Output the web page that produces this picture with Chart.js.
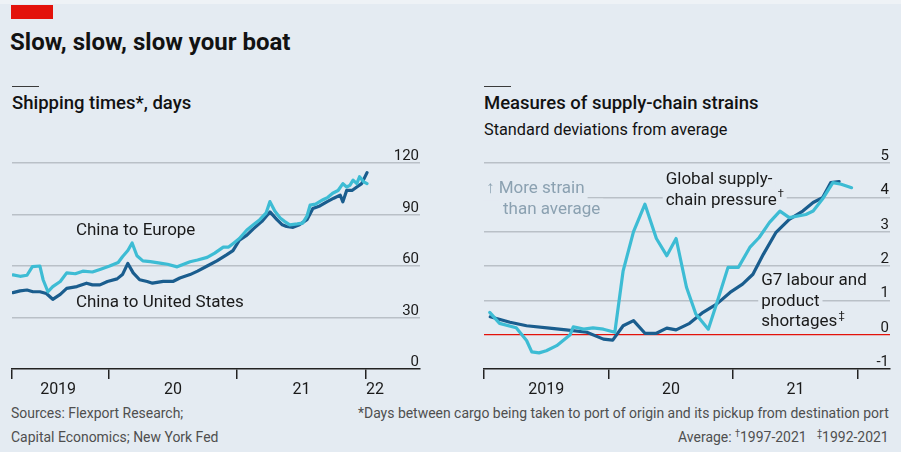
<!DOCTYPE html>
<html>
<head>
<meta charset="utf-8">
<title>Slow, slow, slow your boat</title>
<script src="https://cdn.jsdelivr.net/npm/chart.js"></script>
<style>
  body { margin: 0; background: #e4ebf2; font-family: Roboto, "Noto Sans", sans-serif; color: #121212; }
  .page { position: relative; width: 901px; height: 452px; overflow: hidden; }
  .page > * { position: absolute; margin: 0; white-space: nowrap; }
  .topline { left: 0; top: 0; width: 901px; height: 4px; background: #eef2f6; }
  .redbar { left: 11px; top: 5px; width: 42px; height: 14px; background: #e3120b; }
  .rule { top: 86px; width: 27px; height: 0; border-top: 1.5px solid #3a3a3a; }
  h1 { left: 10px; top: 28px; font-size: 24px; line-height: 28px; font-weight: 700; }
  h2 { top: 92px; font-size: 18.5px; line-height: 22px; font-weight: 500; }
  .sub { left: 484px; top: 120px; font-size: 16.3px; line-height: 20px; }
  .foot { top: 401px; font-size: 15.5px; line-height: 24px; color: #4f4f4f; transform: scaleX(0.9); }
  .foot sup { font-size: 10px; vertical-align: 5px; line-height: 0; }
  canvas { position: absolute; }
</style>
</head>
<body>
<div class="page">
  <div class="topline"></div>
  <div class="redbar"></div>
  <h1>Slow, slow, slow your boat</h1>

  <div class="rule" style="left:12px"></div>
  <h2 style="left:12px">Shipping times*, days</h2>
  <canvas id="shipping" width="440" height="260" style="left:0;top:140px"></canvas>

  <div class="rule" style="left:484px"></div>
  <h2 style="left:484px">Measures of supply-chain strains</h2>
  <div class="sub">Standard deviations from average</div>
  <canvas id="strains" width="441" height="260" style="left:460px;top:140px"></canvas>

  <div class="foot" style="left:11px;transform-origin:left center">Sources: Flexport Research;<br>Capital Economics; New York Fed</div>
  <div class="foot" style="right:12px;text-align:right;transform-origin:right center">*Days between cargo being taken to port of origin and its pickup from destination port<br>Average: <sup>†</sup>1997-2021&nbsp;&nbsp;&nbsp;<sup>‡</sup>1992-2021</div>
</div>

<script>
// x values are months counted from January 2019

// Shipping times, days
const europeMonths = [3.1, 3.75, 4.4, 4.9, 5.6, 5.9, 6.35, 6.8, 7.5, 8.1, 8.9, 9.6, 10.5, 11.2, 12.1, 12.9, 13.3, 13.8, 14.2, 14.65,
  15.2, 15.9, 16.8, 17.5, 18.4, 19.0, 19.6, 20.3, 21.2, 21.9, 22.7, 23.2, 23.6, 24.2, 24.9, 25.5, 26.1, 26.7, 27.05, 27.5,
  28.0, 28.4, 28.9, 29.6, 30.1, 30.5, 30.8, 31.3, 32.0, 32.45, 32.9, 33.4, 33.85, 34.2, 34.5, 34.8, 35.15, 35.4, 35.8, 36.1];
const europeDays = [54.8, 54.0, 54.6, 59.6, 60.0, 52, 45.0, 48, 51, 56, 55.5, 57, 56.5, 58, 60, 62, 65.4, 69, 73.4, 66,
  63, 62.5, 61.7, 61, 59.5, 61, 62.5, 63.5, 65, 67.5, 71, 71, 73, 76, 81, 84, 87, 91, 97.5, 92,
  88, 86, 84, 84.5, 85, 89, 95.5, 96, 98.6, 100, 102.4, 104, 108, 106, 107, 110, 108, 112, 109, 108];
const usMonths = [3.1, 3.75, 4.4, 4.95, 5.6, 6.2, 6.8, 7.5, 8.1, 9.05, 9.95, 10.5, 11.2, 11.9, 12.8, 13.3, 13.8, 14.3, 14.9, 15.6,
  16.1, 17.1, 18.0, 18.65, 19.6, 20.3, 21.2, 22.1, 23.0, 23.6, 24.2, 24.9, 25.5, 26.3, 27.05, 27.7, 28.2, 28.6, 29.2, 29.8,
  30.5, 31.05, 31.7, 32.35, 33.0, 33.6, 33.85, 34.2, 34.7, 35.15, 35.6, 36.1];
const usDays = [44.5, 45.5, 46, 45, 45, 44, 40.6, 43.5, 47, 48, 50, 49, 49, 51, 52.5, 55, 61.5, 56, 52, 51,
  50, 51, 51, 53, 55, 57, 60, 63, 66.5, 69, 75, 78, 81.6, 86, 91.5, 87, 84, 83, 82.5, 84,
  87, 93.5, 95, 97.4, 99.5, 101.3, 97.4, 104, 104, 106, 108, 114.4];
const shippingTicks = [0, 30, 60, 90, 120];
const shippingYearTicks = [3, 12, 24, 36];
const shippingYearLabels = ['2019', '20', '21', '22'];
const shippingYearLabelAt = [7.3, 18, 30, 36.85];

// Supply-chain strains, standard deviations from average
const gscpiMonths = [0.55, 1.5, 3.1, 4.1, 4.6, 5.3, 6.0, 7.0, 8.3, 8.6, 9.6, 10.5, 11.5, 12.6, 13.4, 14.4, 15.5, 16.6, 17.6, 18.5,
  19.5, 20.4, 21.6, 22.4, 23.5, 24.5, 25.6, 26.5, 27.5, 28.5, 29.4, 31.0, 31.7, 32.6, 33.6, 34.4, 35.4];
const gscpiValues = [0.65, 0.33, 0.2, -0.17, -0.5, -0.53, -0.47, -0.32, 0.0, 0.23, 0.16, 0.2, 0.16, 0.07, 1.86, 3.0, 3.8, 2.8, 2.3, 2.8,
  1.38, 0.6, 0.16, 0.9, 1.96, 1.96, 2.54, 2.83, 3.27, 3.6, 3.41, 3.5, 3.6, 3.95, 4.43, 4.38, 4.28];
const g7Months = [0.6, 2.5, 4.1, 6.3, 7.9, 9.9, 11.5, 12.4, 13.4, 14.4, 15.5, 16.6, 17.6, 18.5, 19.8, 21.1, 22.4, 23.7, 24.9, 25.9,
  26.9, 28.1, 29.4, 30.7, 31.7, 32.6, 33.4, 34.2];
const g7Values = [0.52, 0.36, 0.26, 0.19, 0.14, 0.07, -0.13, -0.16, 0.26, 0.41, 0.04, 0.04, 0.19, 0.14, 0.33, 0.65, 0.89, 1.23, 1.47, 1.76,
  2.34, 2.97, 3.36, 3.6, 3.85, 3.99, 4.43, 4.46];
const strainTicks = [-1, 0, 1, 2, 3, 4, 5];
const strainYearTicks = [0, 12, 24, 36];
const strainYearLabels = ['2019', '20', '21'];
const strainYearLabelAt = [6, 18, 30];

const BG = '#e4ebf2';
const LIGHT = '#3dbcd4';
const DARK = '#1a5d8e';
const INK = '#1a1a1a';
const GRID = '#b9c0c7';

function series(xs, ys, color) {
  return {
    data: xs.map((x, i) => ({ x: x, y: ys[i] })),
    borderColor: color, borderWidth: 3.2, pointRadius: 0, tension: 0,
    borderJoinStyle: 'round', borderCapStyle: 'round', fill: false
  };
}

// value labels sit just above their gridline, year labels sit between ticks
const axisText = {
  id: 'axisText',
  afterDraw(chart, args, o) {
    const { ctx, chartArea, scales: { x, y } } = chart;
    ctx.save();
    ctx.fillStyle = INK;
    ctx.font = '15px Roboto, sans-serif';
    ctx.textAlign = 'right';
    ctx.textBaseline = 'alphabetic';
    o.valueTicks.forEach(v => ctx.fillText(String(v), chartArea.right - 1, y.getPixelForValue(v) - 3));
    ctx.font = '16px Roboto, sans-serif';
    ctx.textAlign = 'center';
    ctx.textBaseline = 'middle';
    o.yearLabels.forEach((t, i) => ctx.fillText(t, x.getPixelForValue(o.yearLabelAt[i]), chartArea.bottom + 21));
    ctx.restore();
  }
};

// text notes on a background box that hides the gridlines behind them
const notes = {
  id: 'notes',
  beforeDatasetsDraw(chart, args, o) {
    const { ctx, scales: { x, y } } = chart;
    ctx.save();
    ctx.textBaseline = 'middle';
    ctx.textAlign = 'left';
    o.items.forEach(n => {
      const left = x.getPixelForValue(n.x);
      const top = y.getPixelForValue(n.y);
      n.lines.forEach((line, i) => {
        const lx = left + (line.indent || 0);
        const ly = top + i * 20.5;
        ctx.font = '17px Roboto, sans-serif';
        const w = ctx.measureText(line.text).width;
        let sw = 0;
        if (line.sup) {
          ctx.font = '11px Roboto, sans-serif';
          sw = ctx.measureText(line.sup).width + 1;
        }
        ctx.fillStyle = BG;
        ctx.fillRect(lx - 3, ly - 11, w + sw + 6, 22);
        ctx.fillStyle = n.color || INK;
        ctx.font = '17px Roboto, sans-serif';
        ctx.fillText(line.text, lx, ly);
        if (line.sup) {
          ctx.font = '11px Roboto, sans-serif';
          ctx.fillText(line.sup, lx + w + 1, ly - 6);
        }
      });
    });
    ctx.restore();
  }
};

function build(id, c) {
  return new Chart(document.getElementById(id), {
    type: 'line',
    data: { datasets: c.datasets },
    options: {
      responsive: false,
      animation: false,
      events: [],
      layout: { padding: c.padding },
      plugins: {
        legend: { display: false },
        tooltip: { enabled: false },
        axisText: { valueTicks: c.valueTicks, yearLabels: c.yearLabels, yearLabelAt: c.yearLabelAt },
        notes: { items: c.notes }
      },
      scales: {
        x: {
          type: 'linear', min: c.xMin, max: c.xMax,
          afterBuildTicks: s => { s.ticks = c.yearTicks.map(v => ({ value: v })); },
          ticks: { display: false },
          grid: { drawOnChartArea: false, tickLength: 10, color: '#222', lineWidth: 1.5 },
          border: { display: true, color: '#222', width: 1.5 }
        },
        y: {
          position: 'right', min: c.valueTicks[0], max: c.valueTicks[c.valueTicks.length - 1],
          afterBuildTicks: s => { s.ticks = c.valueTicks.map(v => ({ value: v })); },
          ticks: { display: false },
          grid: {
            drawTicks: false,
            color: ctx => c.gridColor(ctx.tick.value),
            lineWidth: ctx => (ctx.tick.value === 0 && c.redZero ? 1.2 : 1.5)
          },
          border: { display: false }
        }
      }
    },
    plugins: [axisText, notes]
  });
}

build('shipping', {
  datasets: [series(europeMonths, europeDays, LIGHT), series(usMonths, usDays, DARK)],
  padding: { left: 12, right: 20, top: 23, bottom: 21 },
  xMin: 3, xMax: 41.04,
  yearTicks: shippingYearTicks, yearLabels: shippingYearLabels, yearLabelAt: shippingYearLabelAt,
  valueTicks: shippingTicks,
  gridColor: v => (v === 0 ? 'rgba(0,0,0,0)' : GRID),
  notes: [
    { x: 8.96, y: 80.4, lines: [{ text: 'China to Europe' }] },
    { x: 8.96, y: 38.4, lines: [{ text: 'China to United States' }] }
  ]
});

build('strains', {
  datasets: [series(gscpiMonths, gscpiValues, LIGHT), series(g7Months, g7Values, DARK)],
  padding: { left: 24, right: 11, top: 23, bottom: 21 },
  xMin: 0, xMax: 39.1,
  yearTicks: strainYearTicks, yearLabels: strainYearLabels, yearLabelAt: strainYearLabelAt,
  valueTicks: strainTicks,
  redZero: true,
  gridColor: v => (v === -1 ? 'rgba(0,0,0,0)' : v === 0 ? '#e3120b' : GRID),
  notes: [
    { x: 0.19, y: 4.24, color: '#8ba1b1', lines: [{ text: '↑ More strain' }, { text: 'than average', indent: 17 }] },
    { x: 17.5, y: 4.5, lines: [{ text: 'Global supply-' }, { text: 'chain pressure', sup: '†' }] },
    { x: 26.7, y: 1.57, lines: [{ text: 'G7 labour and' }, { text: 'product' }, { text: 'shortages', sup: '‡' }] }
  ]
});
</script>
</body>
</html>
